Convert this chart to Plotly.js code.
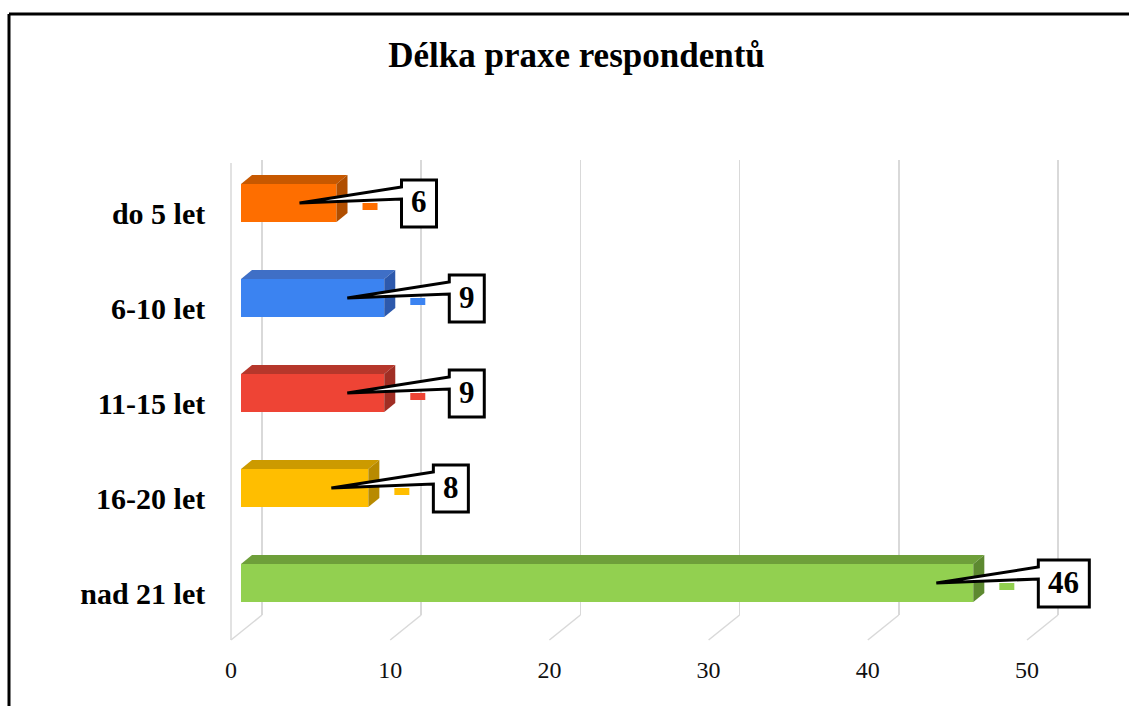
<!DOCTYPE html>
<html>
<head>
<meta charset="utf-8">
<script src="https://cdn.plot.ly/plotly-3.0.1.min.js"></script>
<style>
  html, body { margin: 0; padding: 0; background: #ffffff; }
  #chart { width: 1129px; height: 706px; }
</style>
</head>
<body>
<div id="chart"></div>
<script>
// Délka praxe respondentů – počet respondentů podle délky praxe
const categories = ['do 5 let', '6-10 let', '11-15 let', '16-20 let', 'nad 21 let'];
const counts = [6, 9, 9, 8, 46];
const xTickVals = [0, 10, 20, 30, 40, 50];

// colours of the front, top and side faces of each block
const frontColors = ['#FE6E00', '#3B83F1', '#EE4435', '#FFBE00', '#92D050'];
const topColors   = ['#C75800', '#3F6FC6', '#B6372B', '#CC9A00', '#6E9F3A'];
const sideColors  = ['#B04E00', '#2D59AC', '#A02E24', '#B88A00', '#5D8930'];

// ---- geometry of the pseudo-3D plot (pixels) ----
const W = 1129, H = 706;
const K = 15.92;          // pixels per unit on the value axes
const ROW = 95;           // pixels per category row
const BACK_X0 = 262, BAR_X0 = 241, FRONT_X0 = 231;
const BAR_TOP = 155.5;    // top of the bar plane's y domain
const FRONT_DY = 10;      // front plane sits lower than the bar plane
const BACK_TOP = 160, BACK_BOTTOM = 615;
const DEPTH_X = 31, DEPTH_Y = 25;   // floor depth (front -> back)
const FACE_X = 11, FACE_Y = 9;      // block depth
const BAR_W = 0.4;

const px = p => p / W;
const py = p => 1 - p / H;
const ux = 1 / K;         // value units per pixel
const uy = 1 / ROW;       // row units per pixel

function xDomain(x0, r0, r1) {
  return [px(x0 + r0 * K), px(x0 + r1 * K)];
}

const FONT = 'Liberation Serif, Times New Roman, serif';
const rows = categories.map((_, i) => i);

const traces = [
  // back wall (grid only)
  { type: 'scatter', x: [], y: [], xaxis: 'x', yaxis: 'y', hoverinfo: 'skip', showlegend: false },
  // front face of each block
  {
    type: 'bar', orientation: 'h',
    x: counts, y: rows,
    width: BAR_W,
    marker: { color: frontColors, line: { width: 0 } },
    xaxis: 'x2', yaxis: 'y2',
    hoverinfo: 'skip', showlegend: false
  },
  // front plane (axis labels)
  { type: 'scatter', x: [], y: [], xaxis: 'x3', yaxis: 'y3', hoverinfo: 'skip', showlegend: false }
];

const shapes = [];

// floor lines running from the front edge to the back wall
xTickVals.forEach(v => {
  shapes.push({
    type: 'line', layer: 'below',
    xref: 'x3', xsizemode: 'pixel', xanchor: v, x0: 0, x1: DEPTH_X,
    yref: 'paper', ysizemode: 'pixel', yanchor: py(BACK_BOTTOM + DEPTH_Y), y0: 0, y1: DEPTH_Y,
    line: { color: '#d9d9d9', width: 1.5 }
  });
});
// side wall edge
shapes.push({
  type: 'line', layer: 'below',
  xref: 'x3', x0: 0, x1: 0,
  yref: 'paper', y0: py(163), y1: py(BACK_BOTTOM + DEPTH_Y),
  line: { color: '#d9d9d9', width: 1.5 }
});

// top and side faces of the blocks
counts.forEach((v, i) => {
  const t = i - BAR_W / 2, b = i + BAR_W / 2;
  const dx = FACE_X * ux, dy = FACE_Y * uy;
  shapes.push({
    type: 'path', layer: 'above', xref: 'x2', yref: 'y2',
    path: `M 0,${t} L ${v},${t} L ${v + dx},${t - dy} L ${dx},${t - dy} Z`,
    fillcolor: topColors[i], line: { width: 0 }
  });
  shapes.push({
    type: 'path', layer: 'above', xref: 'x2', yref: 'y2',
    path: `M ${v},${t} L ${v + dx},${t - dy} L ${v + dx},${b - dy} L ${v},${b} Z`,
    fillcolor: sideColors[i], line: { width: 0 }
  });
});

// data labels: legend key + callout box with a wedge pointing into the block
const annotations = [];
counts.forEach((v, i) => {
  const label = String(v);
  const boxW = 19 + 16 * label.length;
  // legend key
  shapes.push({
    type: 'rect', layer: 'above', xref: 'x2', yref: 'y2',
    x0: v + 26 * ux, x1: v + 41 * ux, y0: i, y1: i + 7 * uy,
    fillcolor: frontColors[i], line: { width: 0 }
  });
  // callout outline
  const bx0 = v + 65 * ux, bx1 = v + (65 + boxW) * ux;
  const top = i - 23 * uy, bottom = i + 24 * uy;
  const tipX = v - 37 * ux;
  shapes.push({
    type: 'path', layer: 'above', xref: 'x2', yref: 'y2',
    path: `M ${bx0},${top} L ${bx1},${top} L ${bx1},${bottom} L ${bx0},${bottom} ` +
          `L ${bx0},${i - 4 * uy} L ${tipX},${i} L ${bx0},${i - 16 * uy} Z`,
    fillcolor: '#ffffff', line: { color: '#000000', width: 3 }
  });
  annotations.push({
    xref: 'x2', yref: 'y2', x: v, y: i,
    xshift: 65 + boxW / 2, yshift: 1,
    text: label, showarrow: false,
    xanchor: 'center', yanchor: 'middle',
    font: { family: FONT, size: 31, weight: 700, color: '#000000' }
  });
});

// outer frame
shapes.push({ type: 'line', xref: 'paper', yref: 'paper', x0: px(9), x1: 1, y0: py(14), y1: py(14), line: { color: '#000', width: 3 } });
shapes.push({ type: 'line', xref: 'paper', yref: 'paper', x0: px(9), x1: px(9), y0: py(14), y1: 0, line: { color: '#000', width: 3 } });

const hidden = { showgrid: false, zeroline: false, showline: false, showticklabels: false, ticks: '', fixedrange: true };

const layout = {
  width: W, height: H,
  margin: { l: 0, r: 0, t: 0, b: 0, pad: 0 },
  paper_bgcolor: '#ffffff', plot_bgcolor: 'rgba(0,0,0,0)',
  showlegend: false,
  title: {
    text: 'Délka praxe respondentů',
    x: px(576.5), xanchor: 'center', xref: 'paper',
    y: py(55), yanchor: 'middle', yref: 'paper',
    font: { family: FONT, size: 35, weight: 700, color: '#000000' }
  },
  // back wall: vertical gridlines
  xaxis: Object.assign({}, hidden, {
    range: [-0.3, 50.3], domain: xDomain(BACK_X0, -0.3, 50.3),
    tickvals: xTickVals, showgrid: true, gridcolor: '#d9d9d9', gridwidth: 1.5,
    anchor: 'y'
  }),
  yaxis: Object.assign({}, hidden, {
    range: [0, 1], domain: [py(BACK_BOTTOM), py(BACK_TOP)], anchor: 'x'
  }),
  // block plane
  xaxis2: Object.assign({}, hidden, {
    range: [0, 55], domain: xDomain(BAR_X0, 0, 55), anchor: 'y2'
  }),
  yaxis2: Object.assign({}, hidden, {
    range: [4.5, -0.5], domain: [py(BAR_TOP + 5 * ROW), py(BAR_TOP)], anchor: 'x2'
  }),
  // front plane: value and category labels
  xaxis3: Object.assign({}, hidden, {
    range: [-0.3, 52], domain: xDomain(FRONT_X0, -0.3, 52), anchor: 'y3',
    tickvals: xTickVals, ticktext: xTickVals.map(String),
    showticklabels: true, ticks: 'outside', ticklen: 8, tickcolor: 'rgba(0,0,0,0)',
    tickfont: { family: FONT, size: 24, color: '#111111' }
  }),
  yaxis3: Object.assign({}, hidden, {
    range: [4.5, -0.5],
    domain: [py(BAR_TOP + FRONT_DY + 5 * ROW), py(BAR_TOP + FRONT_DY)], anchor: 'x3',
    tickvals: rows, ticktext: categories,
    showticklabels: true, ticks: 'outside', ticklen: 14, tickcolor: 'rgba(0,0,0,0)',
    tickfont: { family: FONT, size: 30, weight: 700, color: '#000000' }
  }),
  shapes: shapes,
  annotations: annotations
};

Plotly.newPlot('chart', traces, layout, { displayModeBar: false, staticPlot: true });
</script>
</body>
</html>
